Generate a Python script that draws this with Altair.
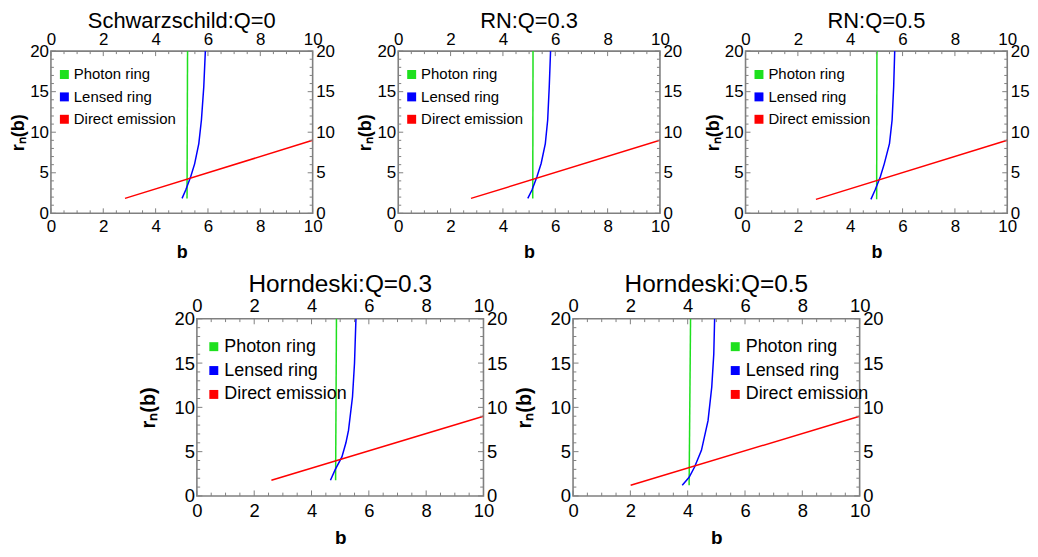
import altair as alt
import pandas as pd

FONT = "Liberation Sans"
FRAME = "#808080"
SERIES = ["Photon ring", "Lensed ring", "Direct emission"]
COLORS = ["#1ee01e", "#0000ff", "#ff0000"]

titles = ["Schwarzschild:Q=0", "RN:Q=0.3", "RN:Q=0.5", "Horndeski:Q=0.3", "Horndeski:Q=0.5"]

photon_b = [[5.20, 5.22], [5.14, 5.15], [5.01, 5.02], [4.84, 4.87], [4.05, 4.10]]
photon_r = [[1.84, 20], [1.84, 20], [1.72, 20], [1.77, 20], [1.2, 20]]

lensed_b = [
    [5.01, 5.15, 5.34, 5.49, 5.65, 5.75, 5.84, 5.90],
    [4.95, 5.11, 5.30, 5.46, 5.62, 5.71, 5.77, 5.82],
    [4.79, 4.95, 5.15, 5.30, 5.50, 5.60, 5.66, 5.70],
    [4.66, 4.83, 5.06, 5.20, 5.29, 5.43, 5.50, 5.55],
    [3.81, 4.05, 4.24, 4.48, 4.71, 4.84, 4.91, 4.94],
]
lensed_r = [
    [1.84, 2.87, 4.5, 6.1, 8.6, 11.5, 15.6, 20],
    [1.84, 2.87, 4.5, 6.15, 8.6, 11.5, 15.6, 20],
    [1.72, 2.87, 4.5, 6.1, 8.6, 11.5, 15.6, 20],
    [1.77, 3.0, 4.4, 6.0, 7.4, 11.2, 15.0, 20],
    [1.2, 2.1, 3.27, 5.15, 8.5, 12.3, 16.0, 20],
]

direct_b = [[2.83, 10], [2.78, 10], [2.69, 10], [2.60, 10], [2.01, 10]]
direct_r = [[1.84, 9.0], [1.84, 9.0], [1.72, 9.0], [1.77, 9.0], [1.2, 9.0]]

x_major = [0, 2, 4, 6, 8, 10]
x_minor = [0.5, 1, 1.5, 2.5, 3, 3.5, 4.5, 5, 5.5, 6.5, 7, 7.5, 8.5, 9, 9.5]
y_major = [0, 5, 10, 15, 20]
y_minor = [1, 2, 3, 4, 6, 7, 8, 9, 11, 12, 13, 14, 16, 17, 18, 19]

legend_pos = [(6, 16), (6, 16), (6, 16), (8, 19), (154, 19)]

TOP = dict(W=263, H=163, title=22, toff=-3, tick=17, axtitle=18, xtpad=9, ytitle=18, ytpad=2,
           legend=15, rowpad=-4.5, loff=2, major=5, minor=3, bpad=5.5, tpad=3)
BOT = dict(W=288, H=178, title=24.5, toff=-1, tick=18.5, axtitle=19, xtpad=8, ytitle=20, ytpad=16,
           legend=18, rowpad=-4, loff=1.5, major=5.5, minor=3.3, bpad=6, tpad=3.5)


def panel(i, s):
    W, H = s["W"], s["H"]
    rows = []
    for name, bs, rs in [
        ("Photon ring", photon_b[i], photon_r[i]),
        ("Lensed ring", lensed_b[i], lensed_r[i]),
        ("Direct emission", direct_b[i], direct_r[i]),
    ]:
        for k, (b, r) in enumerate(zip(bs, rs)):
            rows.append({"series": name, "b": b, "r": r, "k": k})
    df = pd.DataFrame(rows)

    xs = alt.Scale(domain=[0, 10], nice=False, zero=False)
    ys = alt.Scale(domain=[0, 20], nice=False, zero=False)
    common = dict(domain=False, ticks=False, tickSize=0, grid=False, labelFont=FONT,
                  labelFontSize=s["tick"], labelColor="black", labelOverlap=False,
                  labelFlush=False)

    lx, ly = legend_pos[i]
    legend = alt.Legend(title=None, orient="none", legendX=lx, legendY=ly,
                        labelFont=FONT, labelFontSize=s["legend"], labelColor="black",
                        rowPadding=s["rowpad"], padding=0,
                        symbolType="square", symbolSize=9, symbolStrokeWidth=6,
                        labelOffset=s["loff"])

    lines = alt.Chart(df).mark_line(strokeWidth=1.5, clip=True).encode(
        x=alt.X("b:Q", scale=xs, axis=alt.Axis(
            orient="bottom", values=x_major, title="b", titleFont=FONT,
            titleFontSize=s["axtitle"], titleFontWeight="bold", titleColor="black",
            labelPadding=s["bpad"], titlePadding=s["xtpad"], **common)),
        y=alt.Y("r:Q", scale=ys, axis=alt.Axis(
            orient="left", values=y_major, title="rₙ(b)", titleFont=FONT,
            titleFontSize=s["ytitle"], titleFontWeight="bold", titleColor="black",
            labelPadding=2.5, titlePadding=s["ytpad"], **common)),
        stroke=alt.Stroke("series:N", scale=alt.Scale(domain=SERIES, range=COLORS),
                          legend=legend),
        order="k:Q",
    )

    def xr(vals, y0, y1, axis=None):
        return alt.Chart(pd.DataFrame({"v": vals})).mark_rule(color=FRAME, strokeWidth=1).encode(
            x=alt.X("v:Q", scale=xs, axis=axis), y=alt.value(y0), y2=alt.value(y1))

    def yr(vals, x0, x1, axis=None):
        return alt.Chart(pd.DataFrame({"v": vals})).mark_rule(color=FRAME, strokeWidth=1).encode(
            y=alt.Y("v:Q", scale=ys, axis=axis), x=alt.value(x0), x2=alt.value(x1))

    top_axis = alt.Axis(orient="top", values=x_major, title=None, labelPadding=s["tpad"], **common)
    right_axis = alt.Axis(orient="right", values=y_major, title=None, labelPadding=3, **common)

    ma, mi = s["major"], s["minor"]
    layers = [
        lines,
        xr(x_major, H, H - ma), xr(x_minor, H, H - mi),
        xr(x_major, 0, ma, top_axis), xr(x_minor, 0, mi),
        yr(y_major, 0, ma), yr(y_minor, 0, mi),
        yr(y_major, W, W - ma, right_axis), yr(y_minor, W, W - mi),
    ]

    return alt.layer(*layers).resolve_axis(
        x="independent", y="independent"
    ).properties(
        width=W, height=H,
        title=alt.TitleParams(titles[i], font=FONT, fontSize=s["title"], fontWeight="normal",
                              color="black", offset=s["toff"]),
    )


top = alt.hconcat(panel(0, TOP), panel(1, TOP), panel(2, TOP),
                  spacing=20).resolve_scale(stroke="independent").resolve_legend(stroke="independent")
bottom = alt.hconcat(panel(3, BOT), panel(4, BOT), spacing=5).resolve_scale(
    stroke="independent").resolve_legend(stroke="independent")

chart = alt.vconcat(top, bottom, spacing=8, center=True).resolve_scale(
    stroke="independent").resolve_legend(stroke="independent").properties(
    padding={"left": 0, "top": 0, "right": 0, "bottom": 0}
).configure_view(stroke=FRAME, strokeWidth=1.6)

chart.save("out.html", embed_options={"renderer": "svg", "actions": False})
